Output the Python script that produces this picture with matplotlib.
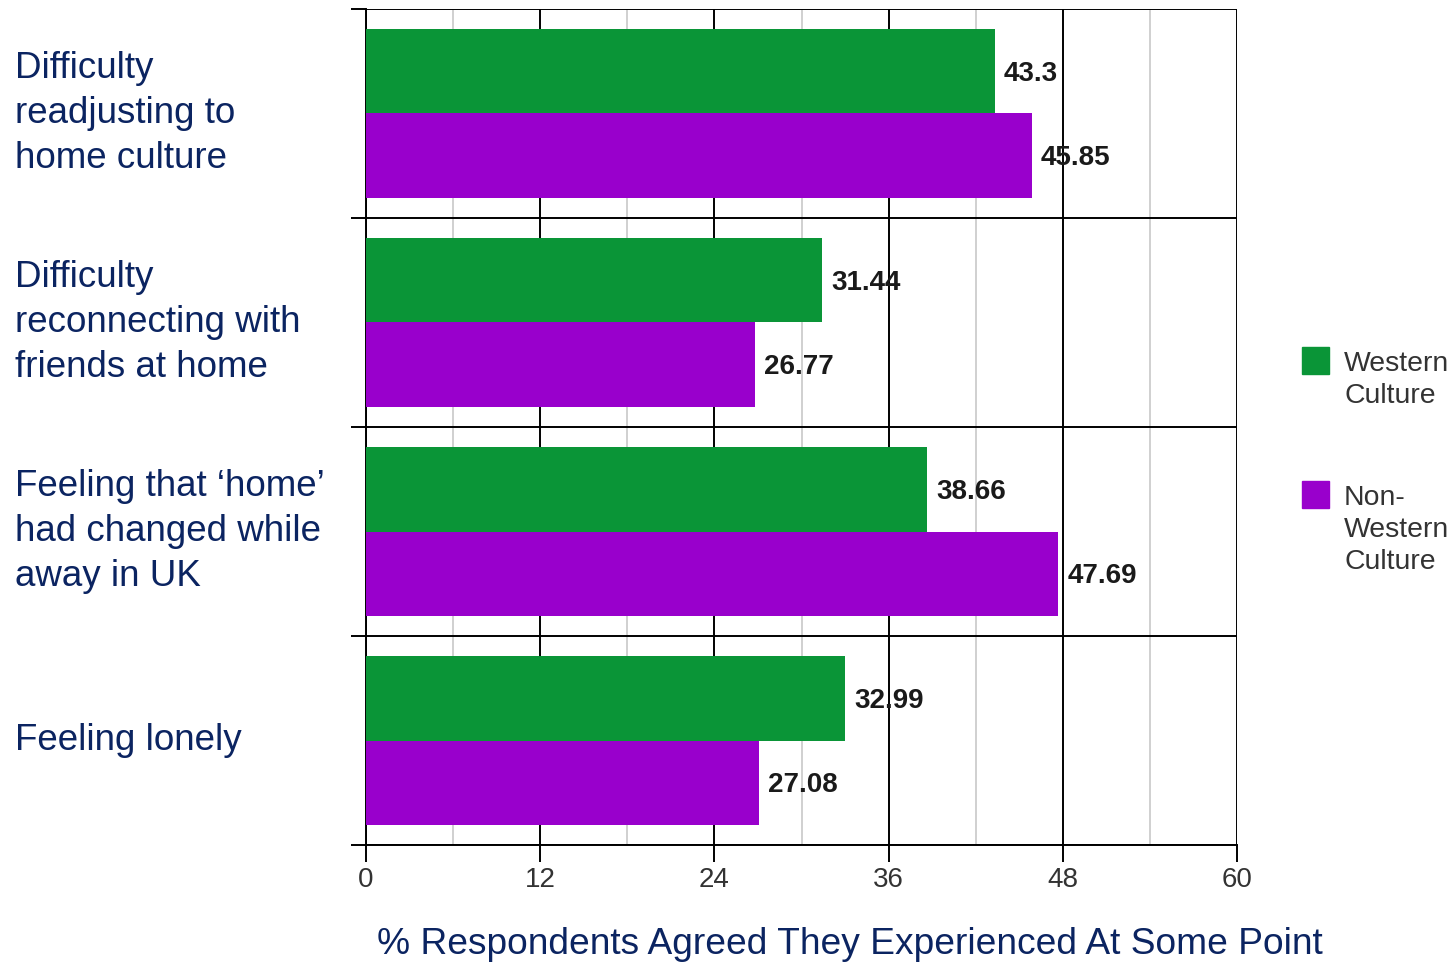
import matplotlib
matplotlib.use("Agg")
import matplotlib.pyplot as plt
import matplotlib.ticker as ticker
import matplotlib.transforms as mtransforms
from matplotlib.patches import Rectangle
import numpy as np

categories = [
    "Difficulty\nreadjusting to\nhome culture",
    "Difficulty\nreconnecting with\nfriends at home",
    "Feeling that \u2018home\u2019\nhad changed while\naway in UK",
    "Feeling lonely",
]
western = [43.3, 31.44, 38.66, 32.99]
non_western = [45.85, 26.77, 47.69, 27.08]
series_names = ["Western\nCulture", "Non-\nWestern\nCulture"]
x_ticks = [0, 12, 24, 36, 48, 60]

GREEN = "#0a9537"
PURPLE = "#9900cc"
NAVY = "#0b2461"

plt.rcParams["font.family"] = ["Liberation Sans", "DejaVu Sans"]

fig = plt.figure(figsize=(14.52, 9.63), dpi=100)
ax = fig.add_axes([366 / 1452, 118 / 963, 871 / 1452, 836 / 963])

y = np.arange(len(categories))
h = 0.402
ax.barh(y - h / 2, western, height=h, color=GREEN, zorder=3)
ax.barh(y + h / 2, non_western, height=h, color=PURPLE, zorder=3)

for vals, off in ((western, -h / 2), (non_western, h / 2)):
    for yi, v in zip(y, vals):
        ax.annotate(f"{v:g}", (v, yi + off), xytext=(6.5, -2),
                    textcoords="offset points", va="center", ha="left",
                    fontsize=20, fontweight="bold", color="#1a1a1a", zorder=5)

ax.set_xlim(0, 60)
ax.set_ylim(len(categories) - 0.5, -0.5)

ax.xaxis.set_major_locator(ticker.FixedLocator(x_ticks))
ax.xaxis.set_minor_locator(ticker.MultipleLocator(6))
ax.yaxis.set_major_locator(ticker.FixedLocator(np.arange(-0.5, len(categories), 1)))
ax.yaxis.set_major_formatter(ticker.NullFormatter())

ax.grid(which="major", axis="both", color="black", lw=1.4, zorder=1)
ax.grid(which="minor", axis="x", color="#c4c4c4", lw=1.1, zorder=1)
ax.tick_params(axis="x", which="major", length=12, width=1.4, pad=4,
               labelsize=20, labelcolor="#333333")
ax.tick_params(axis="x", which="minor", length=0)
ax.tick_params(axis="y", which="major", length=11, width=1.4)

for s in ("top", "right"):
    ax.spines[s].set_visible(False)
for s in ("left", "bottom"):
    ax.spines[s].set_linewidth(1.4)

# category labels, left aligned at the figure edge
trans = mtransforms.blended_transform_factory(fig.transFigure, ax.transData)
for yi, name in zip(y, categories):
    ax.text(15 / 1452, yi, name, transform=trans, ha="left", va="center",
            fontsize=26.5, color=NAVY, linespacing=1.36, clip_on=False)

fig.text(850 / 1452, 19 / 963, "% Respondents Agreed They Experienced At Some Point",
         ha="center", va="center", fontsize=26.7, color=NAVY)

# legend
for top, color, name in ((347, GREEN, series_names[0]), (481, PURPLE, series_names[1])):
    fig.add_artist(Rectangle((1302 / 1452, 1 - (top + 27) / 963), 27 / 1452, 27 / 963,
                             transform=fig.transFigure, color=color))
    fig.text(1344 / 1452, 1 - (top + 4) / 963, name, ha="left", va="top",
             fontsize=20.4, color="#333333", linespacing=1.3)

fig.savefig("out.png", dpi=100)
